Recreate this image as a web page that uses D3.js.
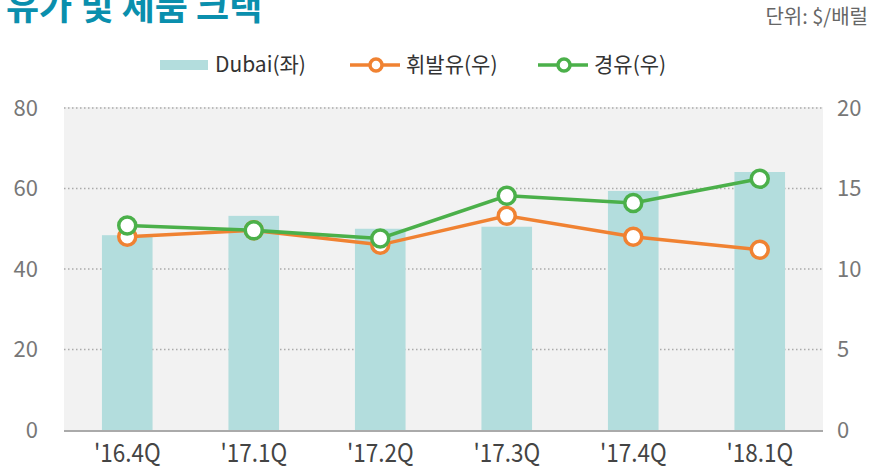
<!DOCTYPE html>
<html><head><meta charset="utf-8">
<script src="https://cdn.jsdelivr.net/npm/d3@7"></script>
<style>
body{margin:0;background:#fff;}
text{font-family:"Noto Sans CJK KR","Noto Sans",sans-serif;}
</style></head>
<body><svg id="c" width="871" height="472"></svg>
<script>
const categories = ["'16.4Q","'17.1Q","'17.2Q","'17.3Q","'17.4Q","'18.1Q"];
const dubai = [48.4, 53.2, 50.0, 50.5, 59.4, 64.1];
const gasoline = [12.0, 12.4, 11.5, 13.3, 12.0, 11.2];
const diesel = [12.7, 12.4, 11.9, 14.55, 14.1, 15.6];
const leftTicks = [0, 20, 40, 60, 80];
const rightTicks = [0, 5, 10, 15, 20];

const svg = d3.select("#c");
const L = 64, R = 823, T = 108, B = 430;
const x = d3.scaleBand().domain(categories).range([L, R]).paddingInner(0.6).paddingOuter(0.3);
const xc = d => x(d) + x.bandwidth()/2;
const yL = d3.scaleLinear().domain([0, 80]).range([B, T]);
const yR = d3.scaleLinear().domain([0, 20]).range([B, T]);

// title & unit
svg.append("text").attr("x", 6).attr("y", 20).attr("font-size", 36).attr("font-weight", 700)
  .attr("fill", "#0a8fad").text("유가 및 제품 크랙");
svg.append("text").attr("x", 868).attr("y", 24).attr("text-anchor", "end").attr("font-size", 20)
  .attr("fill", "#666").text("단위: $/배럴");

// plot background
svg.append("rect").attr("x", L).attr("y", T - 1).attr("width", R - L).attr("height", B - T + 1).attr("fill", "#f2f2f2");

// grid
svg.append("g").selectAll("line").data(leftTicks.filter(d => d > 0)).join("line")
  .attr("x1", L).attr("x2", R).attr("y1", d => yL(d)).attr("y2", d => yL(d))
  .attr("stroke", "#aaa").attr("stroke-width", 1.3).attr("stroke-dasharray", "1.5,2.5");

// bars
svg.append("g").selectAll("rect").data(dubai).join("rect")
  .attr("x", (d, i) => x(categories[i])).attr("width", x.bandwidth())
  .attr("y", d => yL(d)).attr("height", d => B - yL(d)).attr("fill", "#b3dddd");

// baseline
svg.append("line").attr("x1", L).attr("x2", R).attr("y1", B + 1).attr("y2", B + 1)
  .attr("stroke", "#aaa").attr("stroke-width", 2);

// left axis
const axL = svg.append("g").attr("transform", `translate(${L},0)`)
  .call(d3.axisLeft(yL).tickValues(leftTicks).tickSize(0).tickPadding(26));
axL.select(".domain").remove();
axL.selectAll("text").attr("font-size", 22).attr("fill", "#777").attr("font-family", "'Noto Sans CJK KR',sans-serif");

const axR = svg.append("g").attr("transform", `translate(${R},0)`)
  .call(d3.axisRight(yR).tickValues(rightTicks).tickSize(0).tickPadding(14));
axR.select(".domain").remove();
axR.selectAll("text").attr("font-size", 22).attr("fill", "#777").attr("font-family", "'Noto Sans CJK KR',sans-serif");

const axB = svg.append("g").attr("transform", `translate(0,${B})`)
  .call(d3.axisBottom(x).tickSize(0).tickPadding(14));
axB.select(".domain").remove();
axB.selectAll("text").attr("font-size", 25).attr("fill", "#444").attr("font-family", "'Noto Sans CJK KR',sans-serif")
  .attr("transform", "scale(0.9,1)");

// lines
function series(vals, color) {
  const line = d3.line().x((d, i) => xc(categories[i])).y(d => yR(d));
  svg.append("path").datum(vals).attr("d", line).attr("fill", "none").attr("stroke", color).attr("stroke-width", 3.5);
  svg.append("g").selectAll("circle").data(vals).join("circle")
    .attr("cx", (d, i) => xc(categories[i])).attr("cy", d => yR(d)).attr("r", 8.5)
    .attr("fill", "#fff").attr("stroke", color).attr("stroke-width", 3.5);
}
series(gasoline, "#f08232");
series(diesel, "#4bb04a");

// legend
const lg = svg.append("g");
lg.append("rect").attr("x", 160).attr("y", 60).attr("width", 48).attr("height", 10).attr("fill", "#b3dddd");
lg.append("text").attr("x", 215).attr("y", 72).attr("font-size", 21).attr("fill", "#333").text("Dubai(좌)");
[[350, "#f08232", "휘발유(우)"], [538, "#4bb04a", "경유(우)"]].forEach(([lx, c, t]) => {
  lg.append("line").attr("x1", lx).attr("x2", lx + 50).attr("y1", 65).attr("y2", 65).attr("stroke", c).attr("stroke-width", 3.5);
  lg.append("circle").attr("cx", lx + 26).attr("cy", 65).attr("r", 6).attr("fill", "#fff").attr("stroke", c).attr("stroke-width", 3.5);
  lg.append("text").attr("x", lx + 56).attr("y", 72).attr("font-size", 21).attr("fill", "#333").text(t);
});
</script></body></html>
